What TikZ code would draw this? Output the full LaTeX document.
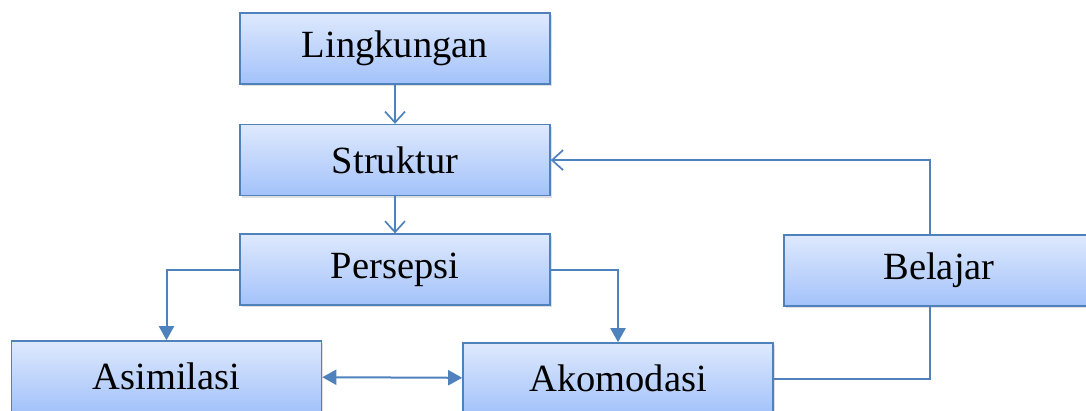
\documentclass[tikz,border=0pt]{standalone}
\usepackage{fontspec}
\setmainfont{Liberation Serif}
\definecolor{boxline}{RGB}{79,129,189}
\definecolor{boxtop}{RGB}{222,233,253}
\definecolor{boxbottom}{RGB}{163,194,250}
\usetikzlibrary{
  arrows.meta,
  positioning,
  shadows,
}
\tikzset{
  >=Straight Barb[],
}

\begin{document}
\begin{tikzpicture}[x=1pt, y=-1pt,
    box/.style={draw=boxline, line width=1.6pt, top color=boxtop,
                bottom color=boxbottom, minimum width=310pt,
                minimum height=71pt, inner sep=0pt,
                font=\fontsize{38.5}{46}\selectfont,
                drop shadow={shadow xshift=1.5pt, shadow yshift=-2pt,
                             opacity=0.25}},
    link/.style={draw=boxline, line width=2pt},
    openarrow/.style={-{Straight Barb[length=11pt, width=20pt, line width=1.7pt]}},
    fillarrow/.style={-{Triangle[length=14pt, width=15pt]}}]
  \useasboundingbox (0,0) rectangle (1086,410);
  \node [box] (lingkungan) at (395,48.5) {Lingkungan};
  \node [box, below=39pt of lingkungan] (struktur) {Struktur};
  \node [box, below=37pt of struktur] (persepsi) {Persepsi};
  \node [box] (asimilasi) at (166.5,376.5) {Asimilasi};
  \node [box] (akomodasi) at (618,378.5) {Akomodasi};
  \node [box] (belajar) at (939,270.5) {Belajar};

  \draw [link, openarrow] (lingkungan) -- (struktur);
  \draw [link, openarrow] (struktur) -- (persepsi);
  \draw [link, fillarrow] (persepsi.west) -| (asimilasi.north);
  \draw [link, fillarrow] (persepsi.east) -| (akomodasi.north);
  \draw [link, {Triangle[length=14pt, width=15pt]}-{Triangle[length=14pt, width=15pt]}]
        (asimilasi) -- (akomodasi);
  \draw [link] (akomodasi.east) -| ([xshift=-9pt]belajar.south);
  \draw [link, openarrow] ([xshift=-9pt]belajar.north) |- (struktur.east);
\end{tikzpicture}
\end{document}
